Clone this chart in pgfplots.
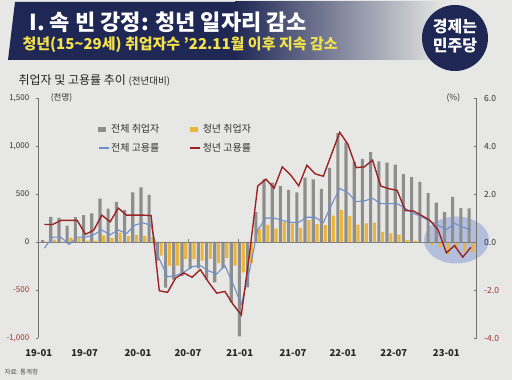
\documentclass[border=0pt]{standalone}
\usepackage{fontspec}
\setmainfont{Noto Sans CJK KR}
\usepackage{pgfplots}
\pgfplotsset{compat=1.18}
\usepackage{pgfplotstable}

\definecolor{bg}{HTML}{E7E7E5}
\definecolor{navy}{HTML}{1F2855}
\definecolor{barGray}{HTML}{8E8E8E}
\definecolor{barYel}{HTML}{E9B53C}
\definecolor{lnBlue}{HTML}{6F8FCB}
\definecolor{lnRed}{HTML}{9A2424}
\definecolor{negred}{HTML}{A03434}
\definecolor{subYel}{HTML}{F3E24B}
\definecolor{hl}{HTML}{B3BFDC}

\pgfplotstableread{
m tot you tr yr
0 19 5 -0.25 0.73
1 263 25 0.20 0.73
2 250 5 0.20 0.90
3 171 45 -0.10 0.90
4 259 42 0.20 0.90
5 281 15 0.20 0.32
6 299 14 0.30 0.49
7 452 68 0.50 1.12
8 348 43 0.30 0.84
9 419 97 0.50 1.41
10 331 62 0.35 1.12
11 516 75 0.70 1.12
12 568 65 0.80 1.12
13 492 50 0.70 1.10
14 -195 -141 -0.70 -2.03
15 -476 -246 -1.45 -2.10
16 -392 -246 -1.40 -1.50
17 -352 -176 -1.26 -1.29
18 -277 -176 -1.03 -1.47
19 -274 -193 -0.98 -1.15
20 -392 -176 -1.20 -1.67
21 -421 -221 -1.33 -2.13
22 -273 -165 -0.98 -2.06
23 -628 -246 -1.75 -2.60
24 -982 -316 -2.60 -3.04
25 -473 -218 -1.20 -0.50
26 314 140 0.50 2.33
27 652 182 1.00 2.62
28 619 140 1.00 2.24
29 582 210 0.90 3.13
30 542 193 0.82 2.80
31 518 147 0.82 2.34
32 671 227 1.03 3.20
33 652 185 1.03 2.84
34 553 175 0.81 2.74
35 773 274 1.55 3.66
36 1135 333 2.23 4.57
37 1037 270 2.05 4.07
38 831 182 1.68 3.10
39 865 193 1.71 3.13
40 935 203 1.82 3.41
41 841 105 1.60 2.33
42 826 90 1.60 2.22
43 807 78 1.60 2.15
44 707 20 1.40 1.31
45 677 12 1.19 1.29
46 626 -5 1.05 1.10
47 509 -28 0.87 0.90
48 411 -57 0.70 0.50
49 312 -127 0.51 -0.45
50 469 -70 0.78 -0.15
51 354 -99 0.62 -0.63
52 351 -105 0.50 -0.22
}\datatable

\begin{document}
\begin{tikzpicture}
\path[use as bounding box] (0,0) rectangle (512pt,380pt);
\fill[bg] (0,0) rectangle (512pt,380pt);
% banner
\fill[navy] (15pt,378pt) -- (236pt,378pt) -- (236pt,320pt) -- (8pt,320pt) -- cycle;
\shade[left color=navy, middle color=navy!55!bg, right color=bg] (235pt,320pt) rectangle (445pt,378pt);
\node[anchor=west, text=white, font=\fontsize{22}{26}\selectfont\bfseries] at (26pt,358pt) {I. 속 빈 강정: 청년 일자리 감소};
\node[anchor=west, text=subYel, font=\fontsize{15}{18}\selectfont\bfseries] at (19pt,335pt) {청년(15\textasciitilde 29세) 취업자수 '22.11월 이후 지속 감소};
% logo
\fill[navy] (455pt,342pt) circle (33pt);
\node[text=white, font=\fontsize{16}{19}\selectfont\bfseries, align=center] at (455pt,343.5pt) {경제는\\민주당};
% chart title
\node[anchor=west, text=black!85, font=\fontsize{12}{14}\selectfont] at (15pt,300pt) {취업자 및 고용률 추이 {\fontsize{9.5}{11}\selectfont(전년대비)}};
% highlight
\fill[hl] (456.5pt,140pt) ellipse (32.5pt and 23.5pt);
% source
\node[anchor=west, font=\fontsize{6.5}{8}\selectfont, text=black!70] at (1pt,8pt) {자료: 통계청};

\begin{axis}[
  at={(38.3pt,42pt)}, anchor=south west, scale only axis,
  width=438.4pt, height=240pt,
  xmin=-0.75, xmax=52.7, ymin=-1000, ymax=1500,
  axis y line*=left, axis x line*=bottom,
  x axis line style={draw=none},
  y axis line style={draw=black!55, line width=0.6pt, -},
  ytick={-1000,-500,0,500,1000,1500},
  yticklabels={{\color{negred}-1,000},{\color{negred}-500},{0},{500},{1,000},{1,500}},
  yticklabel style={font=\fontsize{8}{9}\selectfont, text=black!80, xshift=-3pt},
  xtick={-0.7,4.9,11.4,17.5,23.8,30.3,36.4,42.6,49.0},
  xticklabels={19-01,19-07,20-01,20-07,21-01,21-07,22-01,22-07,23-01},
  xticklabel style={font=\fontsize{9.5}{11}\selectfont\bfseries, text=black!85, yshift=-5pt},
  xtick style={draw=none},
  ytick style={draw=black!55, thin}, tick align=outside, major tick length=2.5pt,
  clip=false,
]
\addplot[ybar, bar width=3.1pt, bar shift=-1.9pt, fill=barGray, draw=none] table[x=m,y=tot]{\datatable};
\addplot[ybar, bar width=3.1pt, bar shift=1.9pt, fill=barYel, draw=none] table[x=m,y=you]{\datatable};
\draw[black!50, line width=0.6pt] (axis cs:-0.75,0) -- (axis cs:52.7,0);
\draw[black!50, line width=0.5pt] (axis cs:17.5,0) -- ++(0pt,3pt);
\draw[black!50, line width=0.5pt] (axis cs:23.6,0) -- ++(0pt,3pt);
\node[anchor=west, font=\fontsize{8.5}{10}\selectfont, text=black!80, xshift=9pt] at (rel axis cs:0,1) {(천명)};
\end{axis}

\begin{axis}[
  at={(38.3pt,42pt)}, anchor=south west, scale only axis,
  width=438.4pt, height=240pt,
  xmin=-0.75, xmax=52.7, ymin=-4, ymax=6,
  axis y line*=right, axis x line=none,
  y axis line style={draw=black!55, line width=0.6pt, -},
  ytick={-4,-2,0,2,4,6},
  yticklabels={{\color{negred}-4.0},{\color{negred}-2.0},{0.0},{2.0},{4.0},{6.0}},
  yticklabel style={font=\fontsize{8.5}{10}\selectfont, text=black!80, xshift=4pt},
  ytick style={draw=black!55, thin}, tick align=inside, major tick length=2.5pt,
  clip=false,
  legend columns=2, legend cell align=left,
  legend image code/.code={\draw[#1] (0pt,0pt) -- (10pt,0pt);},
  legend style={at={(0.129,0.908)}, anchor=north west, draw=none, fill=none,
    font=\fontsize{10}{12}\selectfont, text=black!80, row sep=5pt,
    /tikz/column 2/.style={column sep=28pt}},
]
\addlegendimage{legend image code/.code={\fill[barGray] (0pt,-2pt) rectangle (7pt,2pt);}}
\addlegendentry{전체 취업자}
\addlegendimage{legend image code/.code={\fill[barYel] (0pt,-2pt) rectangle (7pt,2pt);}}
\addlegendentry{청년 취업자}
\addplot[lnBlue, line width=1.1pt, mark=none] table[x=m,y=tr]{\datatable};
\addlegendentry{전체 고용률}
\addplot[lnRed, line width=1.4pt, mark=none] table[x=m,y=yr]{\datatable};
\addlegendentry{청년 고용률}
\node[anchor=east, font=\fontsize{8.5}{10}\selectfont, text=black!80, xshift=-13pt] at (rel axis cs:1,1) {(\%)};
\end{axis}
\end{tikzpicture}
\end{document}
